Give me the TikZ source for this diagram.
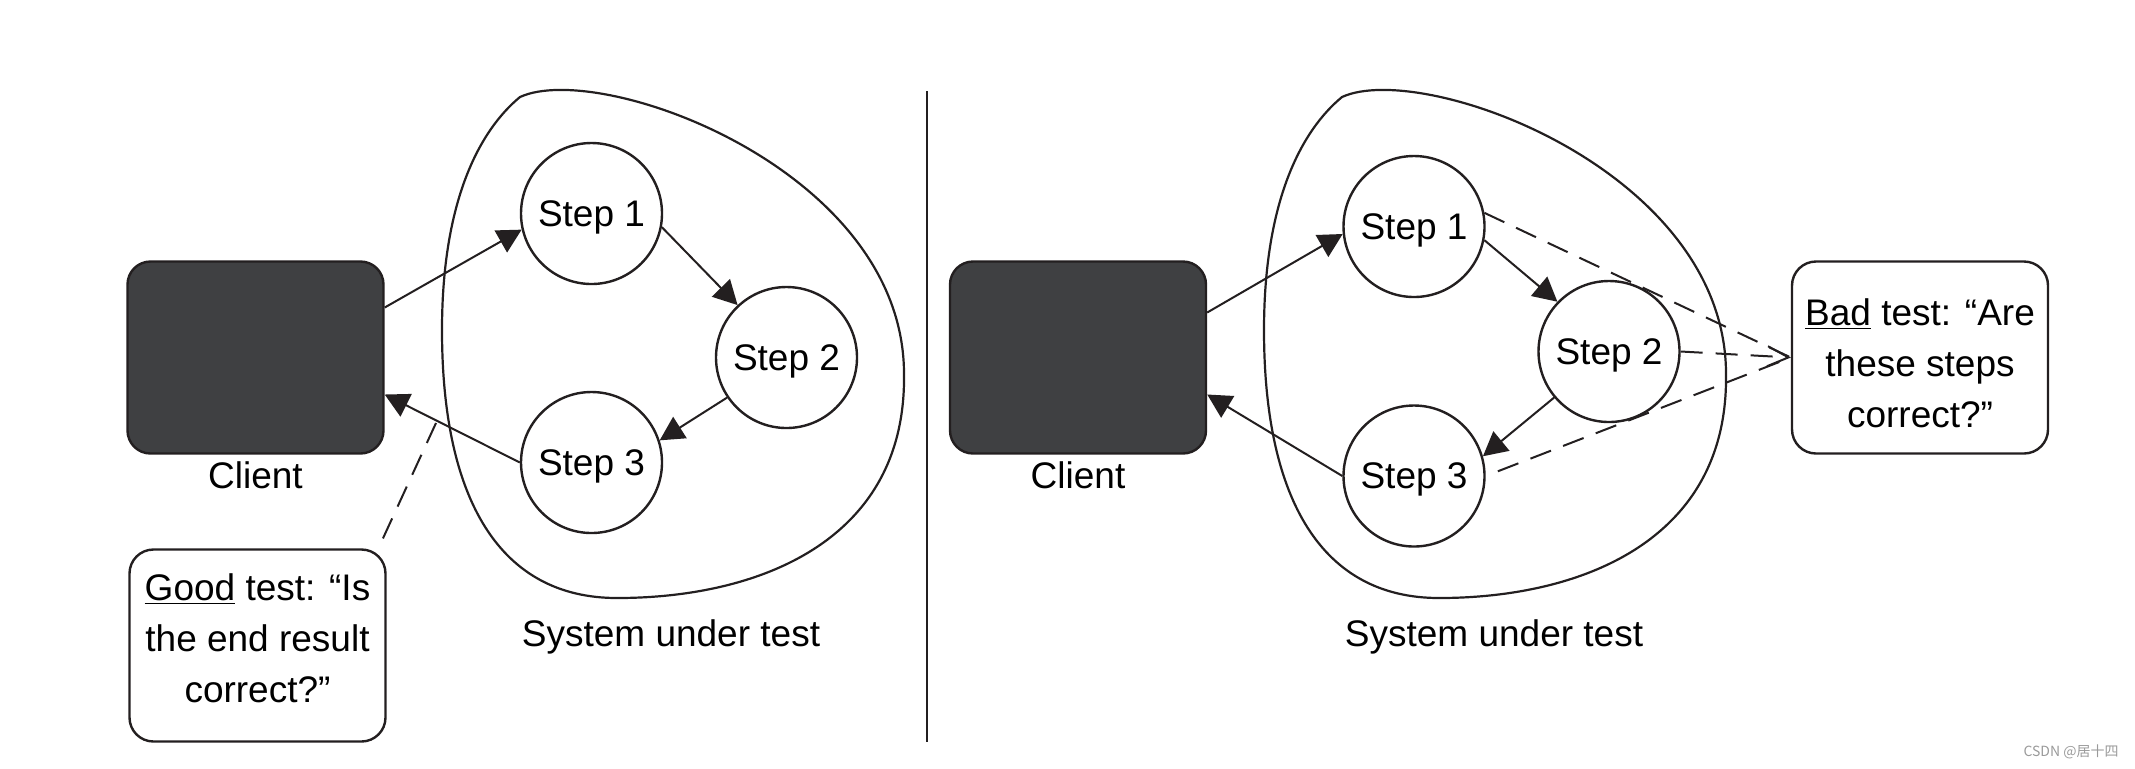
\documentclass[tikz,border=0pt]{standalone}
\usepackage{fontspec}
\setmainfont{Liberation Sans}
\newfontfamily\cjkfont{Noto Sans CJK SC}
\usetikzlibrary{arrows.meta,calc}
\definecolor{ink}{HTML}{231F20}
\definecolor{clientfill}{HTML}{3F4042}
\definecolor{wmgray}{HTML}{9A9A9A}
\begin{document}
\begin{tikzpicture}[x=0.5pt,y=-0.5pt,
  every node/.style={font=\fontsize{18.5}{25.5}\selectfont, text=black},
  stepnode/.style={circle, draw=ink, line width=1.2pt, minimum size=70.5pt, inner sep=0pt, fill=white, text depth=0pt},
  clientbox/.style={rectangle, rounded corners=11.5pt, draw=ink, fill=clientfill, line width=1.2pt, minimum width=128pt, minimum height=96pt},
  notebox/.style={rectangle, rounded corners=12pt, draw=ink, line width=1.2pt, minimum width=128pt, minimum height=96pt, inner sep=2pt},
  arr/.style={draw=ink, line width=1pt, -{Triangle[length=12pt,width=12.5pt]}},
  dashline/.style={draw=ink, line width=1pt, dash pattern=on 11pt off 6.5pt},
  blob/.pic={\draw[ink, line width=1.1pt, line join=miter]
     (520,97) .. controls (600,60) and (905,170) .. (904,375)
     .. controls (906,540) and (760,598) .. (617,598)
     .. controls (500,598) and (442,500) .. (442,330)
     .. controls (442,200) and (480,130) .. (520,97) -- cycle;}
]
\useasboundingbox (0,0) rectangle (2135,768);

% ---------- left half ----------
\pic (blobL) at (0,0) {blob};
\node[clientbox] (cL) at (255.5,357.5) {};
\node (lblCL) at (255.5,475) {Client};
\node[stepnode] (s1L) at (591.5,213.5) {Step 1};
\node[stepnode] (s2L) at (786.5,357.5) {Step 2};
\node[stepnode] (s3L) at (591.5,462.5) {Step 3};
\node (sutL) at (671,637) {System under test};
\node[notebox] (good) at (257.5,645.5) {\raisebox{2pt}[\height][\depth]{\begin{tabular}{@{}c@{}}\underline{Good} test: “Is\\the end result\\correct?”\end{tabular}}};

\draw[arr] ($(cL.east)+(0,-50)$) -- (s1L.193);
\draw[arr] (s1L.349) -- (s2L.133);
\draw[arr] (s2L.214) -- (s3L.18);
\draw[arr] (s3L.west) -- ($(cL.east)+(0,37)$);

\coordinate (gA) at (436,423);
\draw[dashline] (gA) -- ($(good.north east)+(-6,-5)$);

% ---------- divider ----------
\coordinate (dTop) at (927,91);
\coordinate (dBot) at (927,742);
\draw[ink, line width=1.4pt] (dTop) -- (dBot);

% ---------- right half ----------
\pic (blobR) at (822,0) {blob};
\node[clientbox] (cR) at (1078,357.5) {};
\node (lblCR) at (1078,475) {Client};
\node[stepnode] (s1R) at (1414,226.5) {Step 1};
\node[stepnode] (s2R) at (1609,351.5) {Step 2};
\node[stepnode] (s3R) at (1414,476) {Step 3};
\node (sutR) at (1494,637) {System under test};
\node[notebox] (bad) at (1920,357.5) {\raisebox{-4.5pt}[\height][\depth]{\begin{tabular}{@{}c@{}}\underline{Bad} test: “Are\\these steps\\correct?”\end{tabular}}};

\draw[arr] ($(cR.east)+(0,-45)$) -- (s1R.186);
\draw[arr] (s1R.349) -- (s2R.136);
\draw[arr] (s2R.220) -- (s3R.16);
\draw[arr] (s3R.west) -- ($(cR.east)+(0,37)$);

\draw[dashline] (s1R.11) -- (bad.west);
\draw[dashline, -{Straight Barb[length=10.5pt,width=10pt,line width=1pt]}] (s2R.east) -- (bad.west);
\draw[dashline, dash phase=11pt] (s3R.east) -- (bad.west);

% ---------- watermark ----------
\node[font=\cjkfont\fontsize{7}{8}\selectfont, text=wmgray] (wm) at (2071,752) {CSDN @居十四};
\end{tikzpicture}
\end{document}
